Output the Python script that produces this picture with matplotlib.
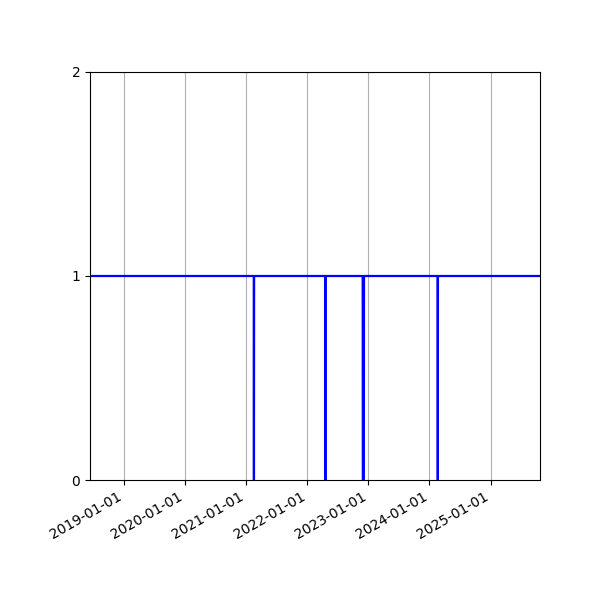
import matplotlib
matplotlib.use("Agg")
import matplotlib.pyplot as plt
import matplotlib.dates as mdates
import datetime as dt

# Breakpoints of the step-like status series (value 1 = up, 0 = down)
dates = [
    "2018-06-12",
    "2021-02-15", "2021-02-16", "2021-02-17",
    "2022-04-18", "2022-04-19", "2022-04-20",
    "2022-11-28", "2022-11-29", "2022-12-05", "2022-12-06",
    "2024-02-19", "2024-02-20", "2024-02-21",
    "2025-10-23",
]
values = [1, 1, 0, 1, 1, 0, 1, 1, 0, 0, 1, 1, 0, 1, 1]

x = [dt.datetime.strptime(d, "%Y-%m-%d") for d in dates]

fig = plt.figure(figsize=(6, 6), dpi=100)
ax = fig.add_axes([0.15, 0.2, 0.75, 0.68])
ax.plot(x, values, color="blue", linewidth=1.6)
ax.set_xlim(x[0], x[-1])
ax.set_ylim(0, 2)
ax.set_yticks([0, 1, 2])
ax.xaxis.set_major_locator(mdates.YearLocator())
ax.xaxis.set_major_formatter(mdates.DateFormatter("%Y-%m-%d"))
ax.grid(True, axis="x")
for lbl in ax.get_xticklabels():
    lbl.set_rotation(30)
    lbl.set_ha("right")
fig.savefig("out.png", dpi=100)
